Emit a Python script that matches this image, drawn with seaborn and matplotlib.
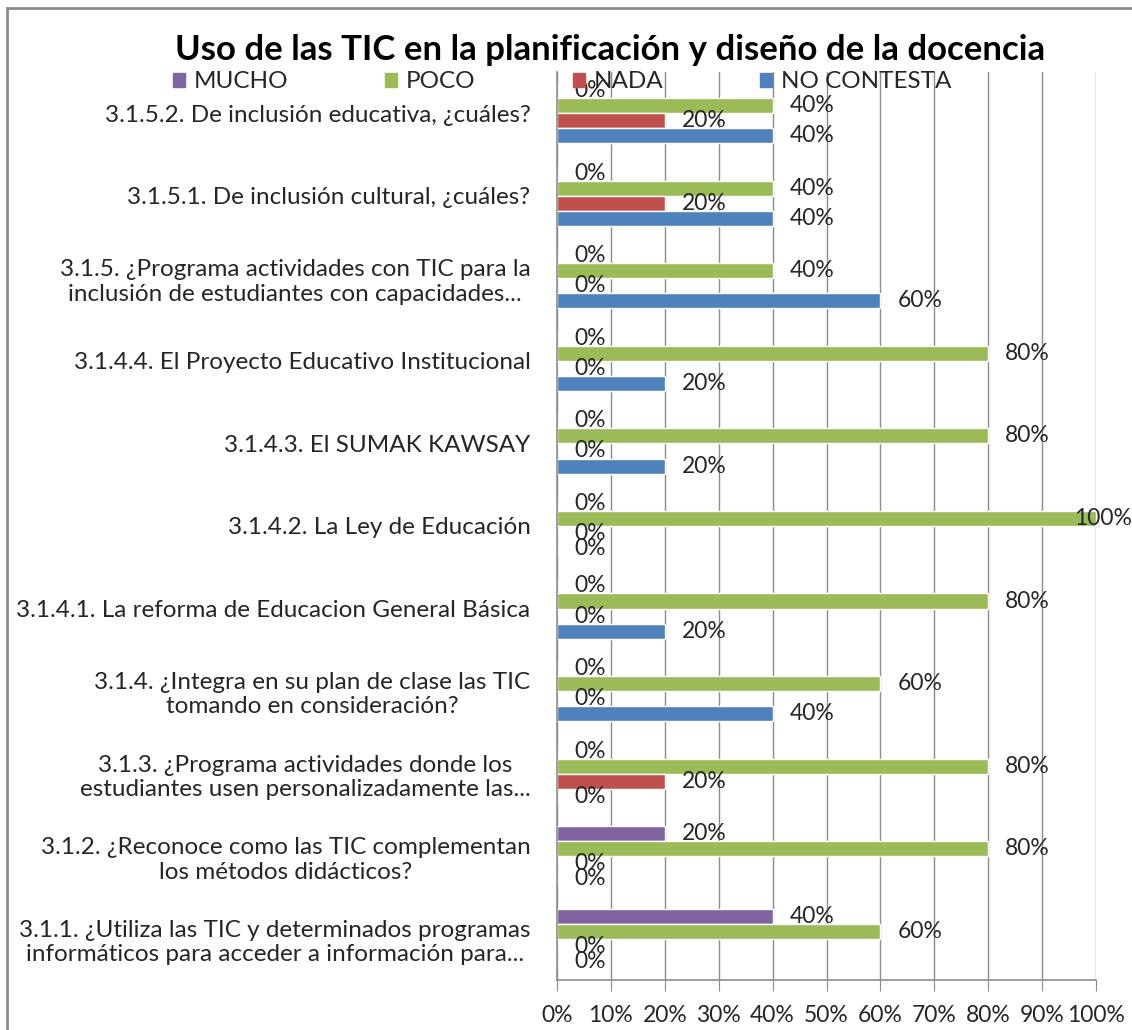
import matplotlib
matplotlib.use('Agg')
import matplotlib.pyplot as plt
import matplotlib.patches as mpatches
import pandas as pd
import seaborn as sns

################################################
## Datos
preguntas = [
    '3.1.5.2. De inclusión educativa, ¿cuáles?',
    '3.1.5.1. De inclusión cultural, ¿cuáles?',
    '3.1.5. ¿Programa actividades con TIC para la\ninclusión de estudiantes con capacidades...',
    '3.1.4.4. El Proyecto Educativo Institucional',
    '3.1.4.3. El SUMAK KAWSAY',
    '3.1.4.2. La Ley de Educación',
    '3.1.4.1. La reforma de Educacion General Básica',
    '3.1.4. ¿Integra en su plan de clase las TIC\ntomando en consideración?',
    '3.1.3. ¿Programa actividades donde los\nestudiantes usen personalizadamente las...',
    '3.1.2. ¿Reconoce como las TIC complementan\nlos métodos didácticos?',
    '3.1.1. ¿Utiliza las TIC y determinados programas\ninformáticos para acceder a información para...',
]
respuestas = ['MUCHO', 'POCO', 'NADA', 'NO CONTESTA']
mucho = [0, 0, 0, 0, 0, 0, 0, 0, 0, 20, 40]
poco = [40, 40, 40, 80, 80, 100, 80, 60, 80, 80, 60]
nada = [20, 20, 0, 0, 0, 0, 0, 0, 20, 0, 0]
no_contesta = [40, 40, 60, 20, 20, 0, 20, 40, 0, 0, 0]
colores = ['#8064A2', '#9BBB59', '#C0504D', '#4F81BD']

df = pd.DataFrame({'Pregunta': preguntas, 'MUCHO': mucho, 'POCO': poco,
                   'NADA': nada, 'NO CONTESTA': no_contesta})
df = df.melt(id_vars='Pregunta', var_name='Respuesta', value_name='Porcentaje')

################################################
## Grafico
sns.set_style('white')
plt.rcParams['font.family'] = ['Lato', 'DejaVu Sans']
texto = '#262626'
gris = '#8c8c8c'

fig = plt.figure(figsize=(11.32, 10.30), dpi=100)
ax = fig.add_axes([557 / 1132, 50 / 1030, 539 / 1132, 908 / 1030])
sns.barplot(data=df, y='Pregunta', x='Porcentaje', hue='Respuesta', hue_order=respuestas,
            order=preguntas, palette=colores, orient='h', width=0.73, saturation=1,
            errorbar=None, legend=False, ax=ax)

# etiquetas de datos
for cont in ax.containers:
    for bar in cont:
        v = bar.get_width()
        y = bar.get_y() + bar.get_height() / 2
        dx = -22 if v >= 100 else 17
        ax.annotate(f'{v:.0f}%', (v, y), xytext=(dx, 0), textcoords='offset pixels',
                    ha='left', va='center', fontsize=16.5, color=texto, annotation_clip=False)

ax.set_xlim(0, 100)
ax.set_xticks(range(0, 101, 10))
ax.set_xticklabels([f'{t}%' for t in range(0, 101, 10)], fontsize=16.5, color=texto)
ax.tick_params(axis='x', length=8, color=gris, pad=10, direction='out', bottom=True)
ax.tick_params(axis='y', length=0, pad=19, labelsize=17.5, labelcolor=texto)
for lbl in ax.get_yticklabels():
    lbl.set_multialignment('center')
ax.set_xlabel('')
ax.set_ylabel('')
ax.grid(axis='x', color=gris, linewidth=1)
ax.set_axisbelow(True)
for s in ['top', 'right']:
    ax.spines[s].set_visible(False)
for s in ['left', 'bottom']:
    ax.spines[s].set_color(gris)
    ax.spines[s].set_linewidth(1.2)

fig.text(610 / 1132, 1 - 50 / 1030, 'Uso de las TIC en la planificación y diseño de la docencia',
         ha='center', va='center', fontsize=25, fontweight='bold', color='black')

handles = [mpatches.Patch(color=c, label=r) for c, r in zip(colores, respuestas)]
fig.legend(handles=handles, loc='center', bbox_to_anchor=(562 / 1132, 1 - 82 / 1030), ncol=4,
           frameon=False, fontsize=17.5, handlelength=0.5, handleheight=0.5,
           handletextpad=0.35, columnspacing=4.0, labelcolor=texto)

# borde del area del grafico
fig.patches.append(mpatches.Rectangle((7 / 1132, -0.1), 1.2, 1.1 - 8 / 1030, transform=fig.transFigure,
                                      fill=False, edgecolor='#8c8c8c', linewidth=2))

fig.savefig('out.png', dpi=100)
